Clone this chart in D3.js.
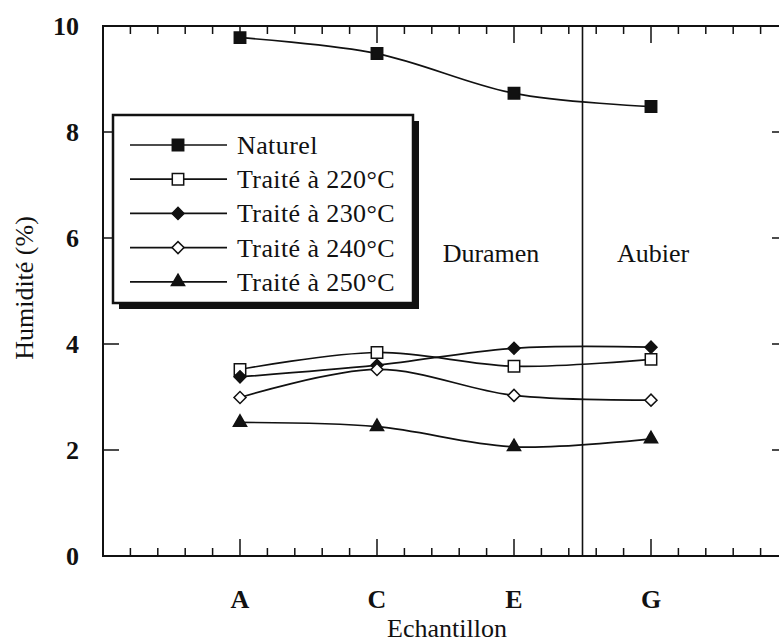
<!DOCTYPE html>
<html><head><meta charset="utf-8">
<script src="https://cdn.jsdelivr.net/npm/d3@7"></script>
<style>
body{margin:0;background:#fff}
svg text{font-family:"Liberation Serif","Times New Roman",serif;fill:#111}
</style>
</head><body>
<svg id="c" width="779" height="644"></svg>
<script>
// ---- data ----
const categories = ["A", "C", "E", "G"];
const seriesNames = ["Naturel", "Traité à 220°C", "Traité à 230°C", "Traité à 240°C", "Traité à 250°C"];
const naturel = [9.78, 9.48, 8.73, 8.48];
const traite220 = [3.52, 3.84, 3.58, 3.71];
const traite230 = [3.38, 3.60, 3.92, 3.94];
const traite240 = [2.99, 3.52, 3.03, 2.94];
const traite250 = [2.52, 2.44, 2.06, 2.21];
const yTicks = [0, 2, 4, 6, 8, 10];
const regionLabels = ["Duramen", "Aubier"];
const xTitle = "Echantillon";
const yTitle = "Humidité (%)";

const seriesValues = [naturel, traite220, traite230, traite240, traite250];
const markerTypes = ["squareFilled", "squareOpen", "diamondFilled", "diamondOpen", "triangleFilled"];

// ---- layout ----
const svg = d3.select("#c");
const pL = 103, pR = 788, pT = 26, pB = 556;
const x = d3.scaleLinear().domain([-1, 4]).range([pL, pR]);
const y = d3.scaleLinear().domain([0, 10]).range([pB, pT]);
const ink = "#111";

const xMinor = d3.range(-4, 20).map(k => k * 0.2).filter(v => Math.abs(v - Math.round(v)) > 1e-6);
const xMajor = categories.map((c, i) => i);

const g = svg.append("g");

function vTicks(data, y0, dy) {
  g.append("g").selectAll("line").data(data).join("line")
    .attr("x1", d => x(d)).attr("x2", d => x(d)).attr("y1", y0).attr("y2", y0 + dy)
    .attr("stroke", ink).attr("stroke-width", 1.5);
}
vTicks(xMinor, pB, -8);
vTicks(xMinor, pT, 8);
vTicks(xMajor, pB, -17);
vTicks(xMajor, pT, 17);

const yInner = yTicks.filter(v => v > 0 && v < 10);
function hTicks(x0, dx) {
  g.append("g").selectAll("line").data(yInner).join("line")
    .attr("x1", x0).attr("x2", x0 + dx).attr("y1", d => y(d)).attr("y2", d => y(d))
    .attr("stroke", ink).attr("stroke-width", 1.5);
}
hTicks(pL, 16);
hTicks(pR, -16);

// frame
g.append("rect").attr("x", pL).attr("y", pT).attr("width", pR - pL).attr("height", pB - pT)
  .attr("fill", "none").attr("stroke", ink).attr("stroke-width", 2);

// divider between Duramen and Aubier
g.append("line").attr("x1", x(2.5)).attr("x2", x(2.5)).attr("y1", pT).attr("y2", pB)
  .attr("stroke", ink).attr("stroke-width", 1.6);

// y tick labels
g.append("g").selectAll("text").data(yTicks).join("text")
  .attr("x", 79).attr("y", d => y(d) + 9).attr("text-anchor", "end")
  .attr("font-size", 26).attr("font-weight", "bold").text(d => d);

// x tick labels
g.append("g").selectAll("text").data(categories).join("text")
  .attr("x", (d, i) => x(i)).attr("y", 608).attr("text-anchor", "middle")
  .attr("font-size", 26).attr("font-weight", "bold").text(d => d);

// axis titles
g.append("text").attr("x", 447).attr("y", 637).attr("text-anchor", "middle")
  .attr("font-size", 26).text(xTitle);
g.append("text").attr("transform", "translate(33,288) rotate(-90)").attr("text-anchor", "middle")
  .attr("font-size", 26).text(yTitle);

// region labels
g.append("g").selectAll("text").data(regionLabels).join("text")
  .attr("x", (d, i) => i === 0 ? 491 : 653).attr("y", 262).attr("text-anchor", "middle")
  .attr("font-size", 26).text(d => d);

// ---- markers ----
function drawMarker(sel, type) {
  let sym, rot = 0, fill = ink, size;
  if (type.startsWith("square")) { sym = d3.symbolSquare; size = 130; }
  else if (type.startsWith("diamond")) { sym = d3.symbolSquare; size = 72; rot = 45; }
  else { sym = d3.symbolTriangle; size = 75; }
  if (type.endsWith("Open")) fill = "#fff";
  sel.append("path").attr("d", d3.symbol().type(sym).size(size)())
    .attr("transform", "rotate(" + rot + ")")
    .attr("fill", fill).attr("stroke", ink).attr("stroke-width", 1.5);
}

const line = d3.line().x((d, i) => x(i)).y(d => y(d)).curve(d3.curveCardinal.tension(0));

seriesValues.forEach(vals => {
  g.append("path").attr("d", line(vals)).attr("fill", "none").attr("stroke", ink).attr("stroke-width", 1.7);
});
seriesValues.forEach((vals, si) => {
  vals.forEach((v, i) => {
    const mg = g.append("g").attr("transform", `translate(${x(i)},${y(v)})`);
    drawMarker(mg, markerTypes[si]);
  });
});

// ---- legend ----
const lx = 113, ly = 115, lw = 300, lh = 188;
g.append("rect").attr("x", lx + 6).attr("y", ly + 6).attr("width", lw).attr("height", lh).attr("fill", ink);
g.append("rect").attr("x", lx).attr("y", ly).attr("width", lw).attr("height", lh)
  .attr("fill", "#fff").attr("stroke", ink).attr("stroke-width", 2.5);
seriesNames.forEach((name, si) => {
  const ry = 145 + si * 34.2;
  g.append("line").attr("x1", 130).attr("x2", 227).attr("y1", ry).attr("y2", ry)
    .attr("stroke", ink).attr("stroke-width", 1.7);
  const mg = g.append("g").attr("transform", `translate(178,${ry})`);
  drawMarker(mg, markerTypes[si]);
  g.append("text").attr("x", 237).attr("y", ry + 9).attr("font-size", 26).attr("letter-spacing", 0.4).text(name);
});
</script>
</body></html>
